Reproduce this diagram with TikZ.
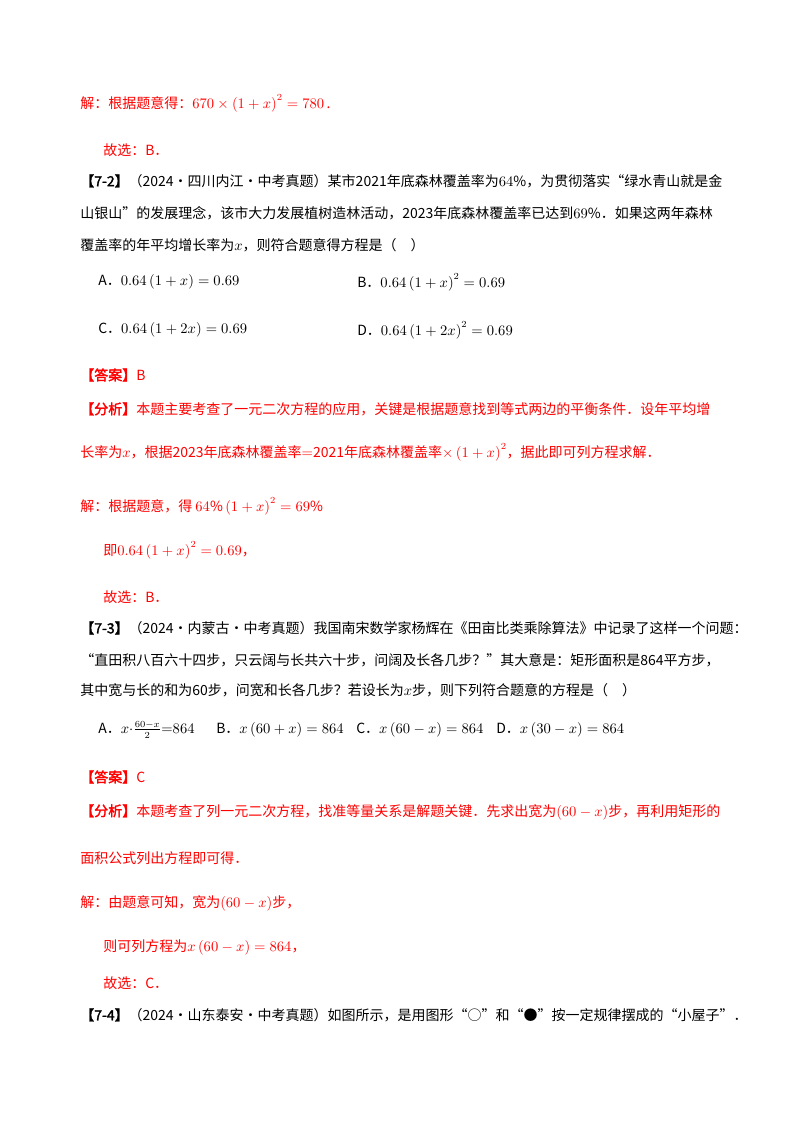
\documentclass[tikz,border=0pt]{standalone}
\usepackage{fontspec}
\setmainfont{Noto Sans CJK SC}[AutoFakeBold=2]
\usepackage{amsmath}
\definecolor{ans}{RGB}{255,0,0}
\begin{document}
\begin{tikzpicture}[x=0.75pt,y=-0.75pt,
  t/.style={anchor=west,inner sep=0pt,font=\fontsize{10.5pt}{12pt}\selectfont},
  r/.style={t,text=ans}]
\useasboundingbox[fill=white] (0,0) rectangle (800,1132);
\node[r] (l1) at (80,103) {解：根据题意得：$670\times\left(1+x\right)^2=780$\,.};
\node[r] (l2) at (103,150) {故选：B．};
\node[t] (l3) at (80,181) {\textbf{【7-2】}（2024·四川内江·中考真题）某市2021年底森林覆盖率为$64\%$，为贯彻落实“绿水青山就是金};
\node[t] (l4) at (80,213) {山银山”的发展理念，该市大力发展植树造林活动，2023年底森林覆盖率已达到$69\%$．如果这两年森林};
\node[t] (l5) at (80,245) {覆盖率的年平均增长率为$x$，则符合题意得方程是（\quad）};
\node[t] (oa) at (98,282) {A．$0.64\left(1+x\right)=0.69$};
\node[t] (ob) at (357,282) {B．$0.64\left(1+x\right)^2=0.69$};
\node[t] (oc) at (98,330) {C．$0.64\left(1+2x\right)=0.69$};
\node[t] (od) at (357,330) {D．$0.64\left(1+2x\right)^2=0.69$};
\node[r] (a1) at (80,375) {\textbf{【答案】}B};
\node[r] (f1) at (80,409) {\textbf{【分析】}本题主要考查了一元二次方程的应用，关键是根据题意找到等式两边的平衡条件．设年平均增};
\node[r] (f2) at (80,452) {长率为$x$，根据2023年底森林覆盖率${=}$2021年底森林覆盖率$\times\left(1+x\right)^2$，据此即可列方程求解．};
\node[r] (j1) at (80,506) {解：根据题意，得 $64\%\left(1+x\right)^2=69\%$};
\node[r] (j2) at (103,550) {即$0.64\left(1+x\right)^2=0.69$，};
\node[r] (j3) at (103,597) {故选：B．};
\node[t] (m1) at (80,628) {\textbf{【7-3】}（2024·内蒙古·中考真题）我国南宋数学家杨辉在《田亩比类乘除算法》中记录了这样一个问题：};
\node[t] (m2) at (80,660) {“直田积八百六十四步，只云阔与长共六十步，问阔及长各几步？”其大意是：矩形面积是864平方步，};
\node[t] (m3) at (80,690) {其中宽与长的和为60步，问宽和长各几步？若设长为$x$步，则下列符合题意的方程是（\quad）};
\node[t] (pa) at (98,730) {A．$x{\cdot}\frac{60-x}{2}{=}864$};
\node[t] (pb) at (216,730) {B．$x\left(60+x\right)=864$};
\node[t] (pc) at (356,730) {C．$x\left(60-x\right)=864$};
\node[t] (pd) at (496,730) {D．$x\left(30-x\right)=864$};
\node[r] (a2) at (80,777) {\textbf{【答案】}C};
\node[r] (g1) at (80,812) {\textbf{【分析】}本题考查了列一元二次方程，找准等量关系是解题关键．先求出宽为$\left(60-x\right)$步，再利用矩形的};
\node[r] (g2) at (80,858) {面积公式列出方程即可得．};
\node[r] (k1) at (80,903) {解：由题意可知，宽为$\left(60-x\right)$步，};
\node[r] (k2) at (103,947) {则可列方程为$x\left(60-x\right)=864$，};
\node[r] (k3) at (103,983) {故选：C．};
\node[t] (n1) at (80,1015) {\textbf{【7-4】}（2024·山东泰安·中考真题）如图所示，是用图形“○”和“●”按一定规律摆成的“小屋子”．};
\end{tikzpicture}
\end{document}
